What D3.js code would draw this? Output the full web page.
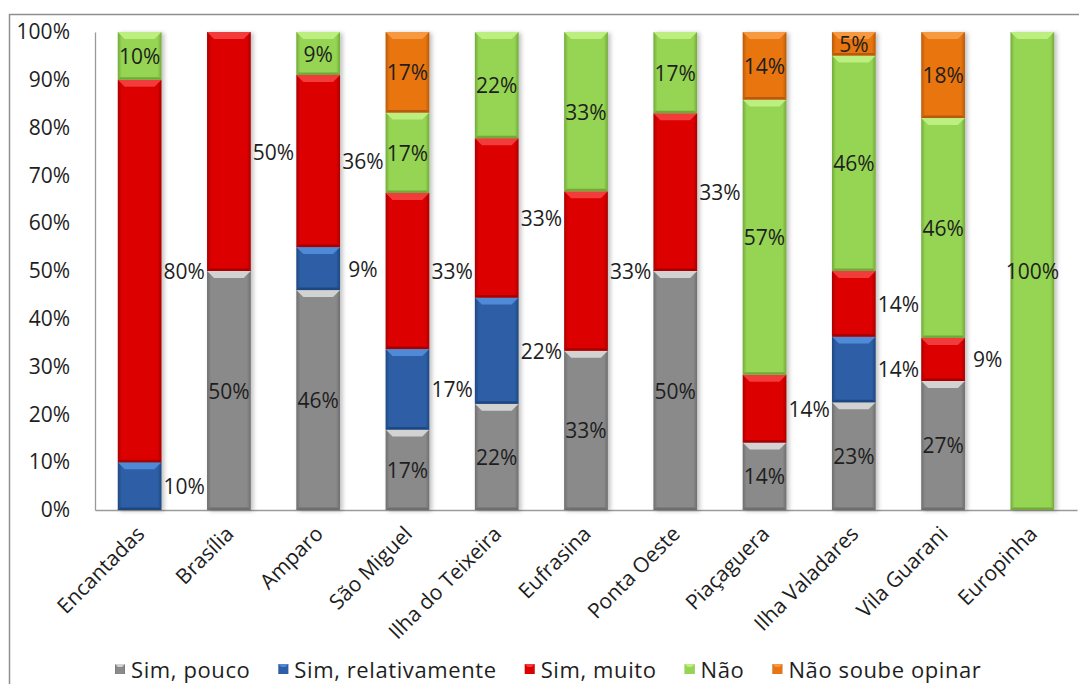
<!DOCTYPE html>
<html>
<head>
<meta charset="utf-8">
<script src="https://cdn.jsdelivr.net/npm/d3@7"></script>
<style>
  html, body { margin: 0; padding: 0; background: #fff; }
  svg { display: block; }
  text { font-family: "Open Sans", "Noto Sans", sans-serif; fill: #1e1e1e; }
</style>
</head>
<body>
<svg id="chart" width="1079" height="684"></svg>
<script>
// Localities surveyed
const categories = ["Encantadas", "Brasília", "Amparo", "São Miguel", "Ilha do Teixeira",
  "Eufrasina", "Ponta Oeste", "Piaçaguera", "Ilha Valadares", "Vila Guarani", "Europinha"];

// Share of answers per locality (%), one array per answer
const simPouco        = [0, 50, 46, 17, 22, 33, 50, 14, 23, 27, 0];
const simRelativa     = [10, 0, 9, 17, 22, 0, 0, 0, 14, 0, 0];
const simMuito        = [80, 50, 36, 33, 33, 33, 33, 14, 14, 9, 0];
const nao             = [10, 0, 9, 17, 22, 33, 17, 57, 46, 46, 100];
const naoSoubeOpinar  = [0, 0, 0, 17, 0, 0, 0, 14, 5, 18, 0];

const seriesNames = ["Sim, pouco", "Sim, relativamente", "Sim, muito", "Não", "Não soube opinar"];
const seriesValues = [simPouco, simRelativa, simMuito, nao, naoSoubeOpinar];
const yTicks = [0, 0.1, 0.2, 0.3, 0.4, 0.5, 0.6, 0.7, 0.8, 0.9, 1.0];

// Appearance of each answer: base, bevel highlight, shaded edge
const palette = [
  { base: "#8a8a8a", light: "#d2d2d2", dark: "#6e6e6e" },
  { base: "#2d5fa6", light: "#4f8ad6", dark: "#1f477f" },
  { base: "#dc0000", light: "#f23a3a", dark: "#a80000" },
  { base: "#95d552", light: "#bdee80", dark: "#73a93b" },
  { base: "#e87511", light: "#f6993f", dark: "#b85a08" }
];
// Answers whose labels sit beside the bar instead of inside it
const besideBar = new Set(["Sim, relativamente", "Sim, muito"]);

const rows = categories.map((c, i) => {
  const r = { cat: c };
  seriesNames.forEach((s, k) => r[s] = seriesValues[k][i]);
  return r;
});

const stack = d3.stack().keys(seriesNames).offset(d3.stackOffsetExpand);
const layers = stack(rows);

const svg = d3.select("#chart");
const margin = { left: 95, right: 2, top: 32, bottom: 174 };
const W = 1079, H = 684;

const x = d3.scaleBand().domain(categories).range([margin.left, W - margin.right]).paddingInner(0.51).paddingOuter(0.255);
const y = d3.scaleLinear().domain([0, 1]).range([H - margin.bottom, margin.top]);

// Outer frame
svg.append("rect").attr("x", 9.5).attr("y", 14.5).attr("width", 1200).attr("height", 800)
  .attr("fill", "none").attr("stroke", "#8f8f8f").attr("stroke-width", 1.5);

const defs = svg.append("defs");
const shadow = defs.append("filter").attr("id", "shade").attr("x", "-20%").attr("y", "-5%").attr("width", "150%").attr("height", "110%");
shadow.append("feDropShadow").attr("dx", 2.5).attr("dy", 1).attr("stdDeviation", 2)
  .attr("flood-color", "#000").attr("flood-opacity", 0.25);

palette.forEach((p, k) => {
  const g = defs.append("linearGradient").attr("id", "side" + k).attr("x1", 0).attr("x2", 1).attr("y1", 0).attr("y2", 0);
  g.append("stop").attr("offset", "0%").attr("stop-color", p.dark);
  g.append("stop").attr("offset", "9%").attr("stop-color", p.base);
  g.append("stop").attr("offset", "91%").attr("stop-color", p.base);
  g.append("stop").attr("offset", "100%").attr("stop-color", p.dark);
});

// Y axis
const yAxis = d3.axisLeft(y).tickValues(yTicks).tickFormat(d3.format(".0%")).tickSize(0).tickPadding(25);
const ya = svg.append("g").attr("transform", `translate(${margin.left},0)`).call(yAxis);
ya.select(".domain").attr("stroke", "#9a9a9a").attr("stroke-width", 1.3);
ya.selectAll("text").style("font-size", "21px").attr("fill", "#1e1e1e");

// X axis baseline
const xa = svg.append("g").attr("transform", `translate(0,${y(0)})`)
  .call(d3.axisBottom(x).tickSize(0).tickFormat(""));
xa.select(".domain").attr("stroke", "#9a9a9a").attr("stroke-width", 1.3);

// Bars
const barsG = svg.append("g");
categories.forEach((c, i) => {
  const bg = barsG.append("g").attr("filter", "url(#shade)");
  layers.forEach((layer, k) => {
    const d = layer[i];
    if (d.data[layer.key] <= 0) return;
    const x0 = x(c), x1 = x(c) + x.bandwidth();
    const yt = y(d[1]), yb = y(d[0]);
    const h = yb - yt;
    const b = Math.min(7, h / 2.5);
    const p = palette[k];
    bg.append("rect").attr("x", x0).attr("y", yt).attr("width", x1 - x0).attr("height", h)
      .attr("fill", `url(#side${k})`);
    // top bevel
    bg.append("polygon")
      .attr("points", [[x0, yt], [x1, yt], [x1 - b, yt + b], [x0 + b, yt + b]].map(q => q.join(",")).join(" "))
      .attr("fill", p.light);
    // bottom shaded edge
    const bb = Math.min(2.5, h / 4);
    bg.append("polygon")
      .attr("points", [[x0, yb], [x1, yb], [x1 - bb, yb - bb], [x0 + bb, yb - bb]].map(q => q.join(",")).join(" "))
      .attr("fill", p.dark);
  });
});

// Value labels
const labelsG = svg.append("g");
layers.forEach((layer, k) => {
  layer.forEach((d, i) => {
    const v = d.data[layer.key];
    if (v <= 0) return;
    const cx = x(categories[i]) + x.bandwidth() / 2;
    const lx = besideBar.has(layer.key) ? cx + x.step() / 2 : cx;
    labelsG.append("text")
      .attr("x", lx).attr("y", y((d[0] + d[1]) / 2))
      .attr("text-anchor", "middle").attr("dominant-baseline", "central")
      .style("font-size", "21px")
      .text(v + "%");
  });
});

// Category labels, rotated
svg.append("g").selectAll("text").data(categories).join("text")
  .attr("transform", d => `translate(${x(d) + x.bandwidth() / 2 - 5},${y(0) + 14}) rotate(-45)`)
  .attr("text-anchor", "end").attr("dy", "0.75em")
  .style("font-size", "21px")
  .text(d => d);

// Legend
const legend = svg.append("g");
let lx = 115;
seriesNames.forEach((s, k) => {
  const p = palette[k];
  const item = legend.append("g").attr("transform", `translate(${lx},664)`);
  item.append("rect").attr("width", 10).attr("height", 10).attr("fill", `url(#side${k})`);
  item.append("polygon").attr("points", "0,0 10,0 7,3 3,3").attr("fill", p.light);
  const t = item.append("text").attr("x", 16).attr("y", 5).attr("dominant-baseline", "central")
    .style("font-size", "22px").style("letter-spacing", "0.6px").text(s);
  lx += 16 + t.node().getComputedTextLength() + 28;
});
</script>
</body>
</html>
